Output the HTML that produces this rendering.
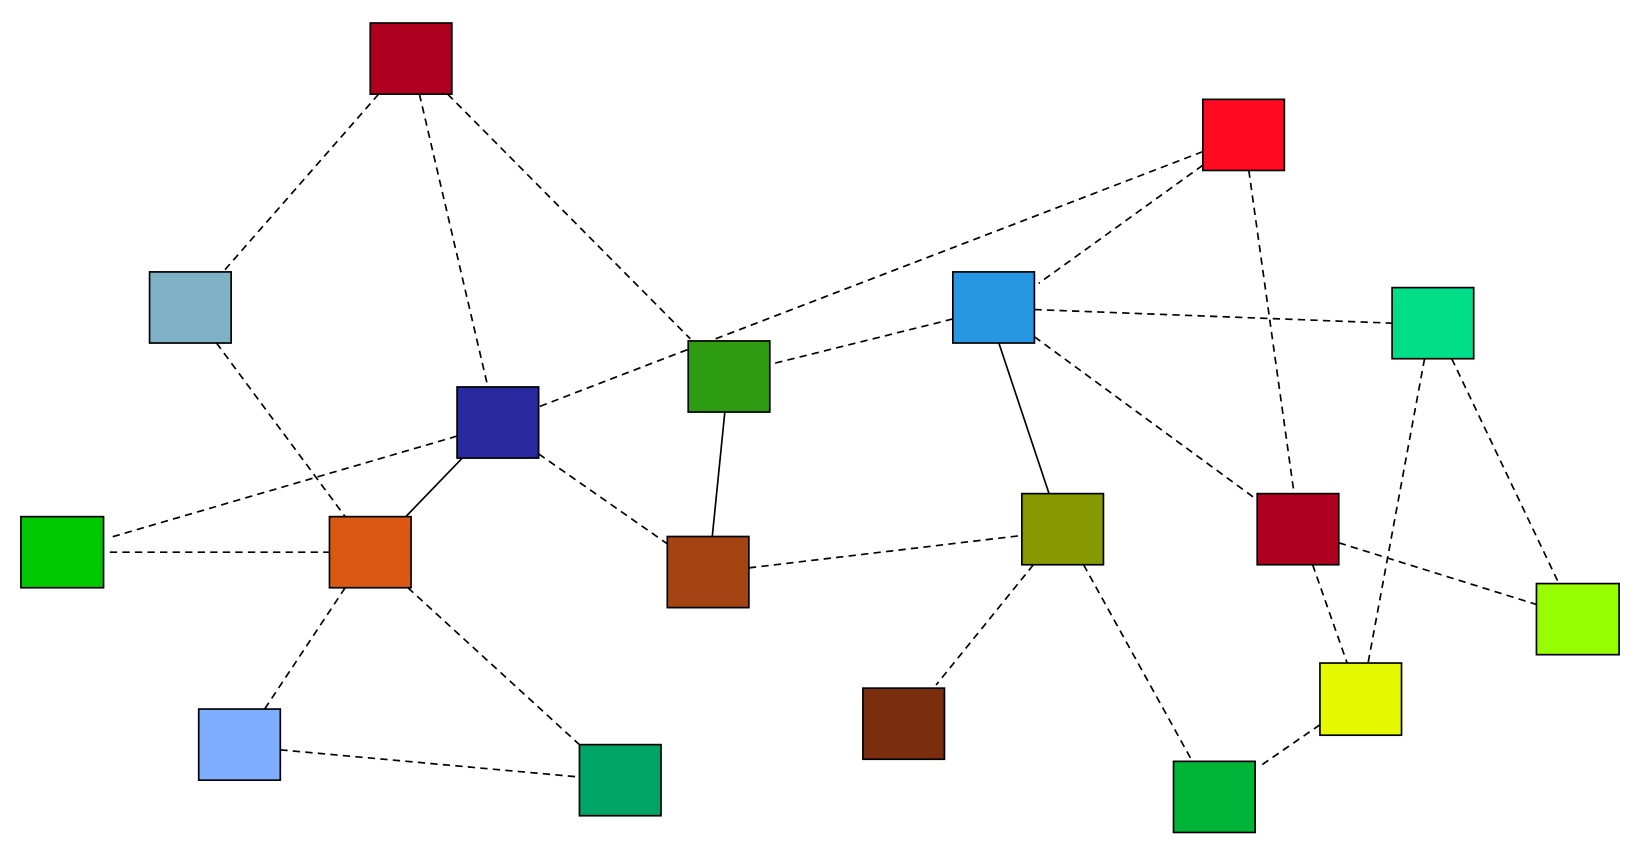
<!DOCTYPE html>
<html><head><style>html,body{margin:0;padding:0;background:#fff}svg{display:block}</style></head>
<body>
<svg width="1640" height="856" viewBox="0 0 1568 818.5" preserveAspectRatio="none" xmlns="http://www.w3.org/2000/svg">
<g stroke="#000" stroke-width="1.6" fill="none" stroke-dasharray="7,5">
<line x1="362" y1="90" x2="215" y2="258"/>
<line x1="401" y1="90" x2="466" y2="368"/>
<line x1="428" y1="90" x2="660" y2="324"/>
<line x1="1150" y1="145" x2="515" y2="389"/>
<line x1="1150" y1="158" x2="993" y2="271"/>
<line x1="1194" y1="163" x2="1237" y2="470"/>
<line x1="911" y1="305" x2="738" y2="348"/>
<line x1="989" y1="296" x2="1331" y2="309"/>
<line x1="989" y1="322" x2="1202" y2="478"/>
<line x1="1362" y1="343" x2="1308" y2="634"/>
<line x1="1388" y1="343" x2="1490" y2="557"/>
<line x1="437" y1="417" x2="105" y2="514"/>
<line x1="515" y1="434" x2="638" y2="520"/>
<line x1="207" y1="328" x2="330" y2="494"/>
<line x1="105" y1="528" x2="315" y2="528"/>
<line x1="330" y1="562" x2="253" y2="678"/>
<line x1="390" y1="562" x2="554" y2="712"/>
<line x1="268" y1="717" x2="554" y2="743"/>
<line x1="716" y1="543" x2="977" y2="512"/>
<line x1="988" y1="540" x2="895" y2="655"/>
<line x1="1036" y1="540" x2="1140" y2="728"/>
<line x1="1255" y1="540" x2="1288" y2="634"/>
<line x1="1280" y1="519" x2="1469" y2="578"/>
<line x1="1262" y1="693" x2="1204" y2="733"/>
</g>
<g stroke="#000" stroke-width="1.6">
<line x1="955" y1="328" x2="1003" y2="472"/>
<line x1="693" y1="394" x2="681" y2="513"/>
<line x1="442" y1="438" x2="388" y2="494"/>
</g>
<g stroke="#000" stroke-width="1.6">
<rect x="354" y="22" width="78" height="68" fill="#b00020"/>
<rect x="1150" y="95" width="78" height="68" fill="#ff0a20"/>
<rect x="143" y="260" width="78" height="68" fill="#80b2c6"/>
<rect x="911" y="260" width="78" height="68" fill="#2996e3"/>
<rect x="1331" y="275" width="78" height="68" fill="#00de8a"/>
<rect x="658" y="326" width="78" height="68" fill="#2e9c12"/>
<rect x="437" y="370" width="78" height="68" fill="#28289f"/>
<rect x="20" y="494" width="79" height="68" fill="#00c800"/>
<rect x="315" y="494" width="78" height="68" fill="#da5812"/>
<rect x="977" y="472" width="78" height="68" fill="#869a00"/>
<rect x="1202" y="472" width="78" height="68" fill="#b00020"/>
<rect x="638" y="513" width="78" height="68" fill="#a44412"/>
<rect x="1469" y="558" width="79" height="68" fill="#96fe00"/>
<rect x="1262" y="634" width="78" height="69" fill="#e6f800"/>
<rect x="190" y="678" width="78" height="68" fill="#80aeff"/>
<rect x="825" y="658" width="78" height="68" fill="#7a2e0e"/>
<rect x="554" y="712" width="78" height="68" fill="#00a466"/>
<rect x="1122" y="728" width="78" height="68" fill="#00b43a"/>
</g>
</svg>
</body></html>
